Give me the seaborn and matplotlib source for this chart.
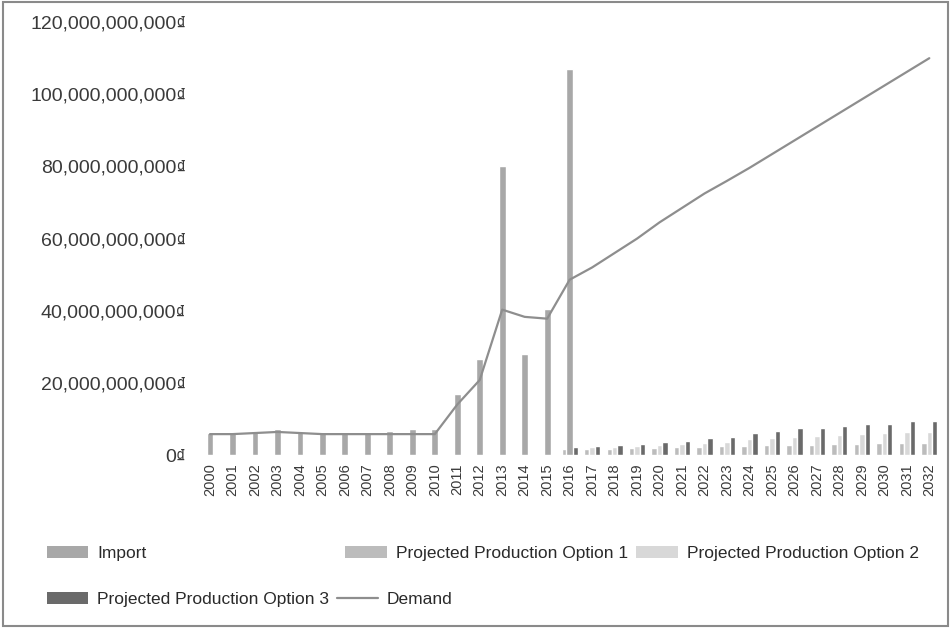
import pandas as pd
import matplotlib
matplotlib.use('Agg')
import matplotlib.pyplot as plt
import seaborn as sns
import numpy as np
from matplotlib.patches import Patch, Rectangle
from matplotlib.lines import Line2D
from matplotlib.ticker import FuncFormatter

# Dados (em bilhões)
years = [str(y) for y in range(2000, 2033)]

import_bn = [6.1, 6.4, 6.7, 7.2, 6.4, 6.1, 6.4, 6.1, 6.7, 7.2, 7.2,
             17.0, 26.6, 80.0, 28.0, 40.5, 107.0] + [np.nan] * 16

option_years = years[16:]
option1_bn = [1.6, 1.7, 1.8, 1.9, 2.0, 2.1, 2.2, 2.4, 2.6, 2.7, 2.8,
              2.9, 3.0, 3.1, 3.2, 3.3, 3.4]
option2_bn = [1.9, 2.1, 2.3, 2.5, 2.8, 3.1, 3.4, 3.7, 4.4, 4.8, 5.1,
              5.3, 5.6, 5.9, 6.0, 6.3, 6.5]
option3_bn = [2.1, 2.4, 2.8, 3.1, 3.5, 4.0, 4.6, 4.9, 6.2, 6.8, 7.4,
              7.6, 8.1, 8.6, 8.6, 9.3, 9.4]

demand_bn = [5.8, 5.8, 6.1, 6.4, 6.1, 5.8, 5.8, 5.8, 5.8, 5.8, 5.8,
             14.0, 20.8, 40.3, 38.3, 37.8, 48.6, 52.0, 56.0, 60.0, 64.5,
             68.5, 72.5, 76.0, 79.6, 83.4, 87.2, 91.0, 94.8, 98.6, 102.4,
             106.2, 110.0]

series_names = ['Import', 'Projected Production Option 1',
                'Projected Production Option 2', 'Projected Production Option 3',
                'Demand']
colors = ['#a8a8a8', '#bcbcbc', '#d8d8d8', '#6a6a6a', '#8e8e8e']

# Tabelas para o seaborn
df_import = pd.DataFrame({'Year': years, 'Value': np.array(import_bn) * 1e9})
df_opt = pd.DataFrame({
    'Year': option_years * 3,
    'Value': np.array(option1_bn + option2_bn + option3_bn) * 1e9,
    'Series': [series_names[1]] * 17 + [series_names[2]] * 17 + [series_names[3]] * 17,
})

sns.set_style('white')
plt.rcParams['font.family'] = ['Liberation Sans', 'DejaVu Sans']

fig = plt.figure(figsize=(9.51, 6.32), dpi=100)
ax = fig.add_axes([0.209, 0.280, 0.780, 0.685])

sns.barplot(data=df_opt, x='Year', y='Value', hue='Series', order=years,
            hue_order=series_names[1:4], palette=colors[1:4], width=0.72,
            dodge=True, ax=ax, legend=False, saturation=1)
sns.barplot(data=df_import, x='Year', y='Value', order=years, color=colors[0],
            width=0.3, ax=ax, saturation=1)
sns.lineplot(x=np.arange(len(years)), y=np.array(demand_bn) * 1e9, color=colors[4],
             linewidth=1.6, ax=ax)

ax.set_xlim(-0.5, len(years) - 0.5)
ax.set_ylim(0, 120e9)
ax.set_yticks(np.arange(0, 121e9, 20e9))
ax.yaxis.set_major_formatter(FuncFormatter(lambda v, p: f'{v:,.0f}₫'))
ax.set_xlabel('')
ax.set_ylabel('')
ax.tick_params(axis='y', labelsize=14, length=0, pad=9, colors='#3a3a3a')
ax.tick_params(axis='x', labelsize=10.5, length=0, pad=6, colors='#3a3a3a',
               labelrotation=90)
for s in ax.spines.values():
    s.set_visible(False)

# Legenda em linhas soltas, como no original
handles = [Patch(facecolor=c, edgecolor='none') for c in colors[:4]]
handles.append(Line2D([0], [0], color=colors[4], linewidth=1.6))
leg_kw = dict(frameon=False, fontsize=12.5, handlelength=2.4, handleheight=0.7,
              handletextpad=0.5, borderpad=0, borderaxespad=0, labelcolor='#2a2a2a',
              loc='center left')
fig.legend([handles[0]], [series_names[0]], bbox_to_anchor=(0.049, 0.124), **leg_kw)
fig.legend(handles[1:3], series_names[1:3], bbox_to_anchor=(0.363, 0.124), ncol=2,
           columnspacing=0.5, **leg_kw)
fig.legend([handles[3], handles[4]], [series_names[3], series_names[4]],
           bbox_to_anchor=(0.049, 0.051), ncol=2, columnspacing=0.45, **leg_kw)

# Moldura da imagem
fig.patches.append(Rectangle((0.003, 0.01), 0.994, 0.987, transform=fig.transFigure,
                             fill=False, edgecolor='#8a8a8a', linewidth=1.5))

fig.savefig('out.png', dpi=100)
